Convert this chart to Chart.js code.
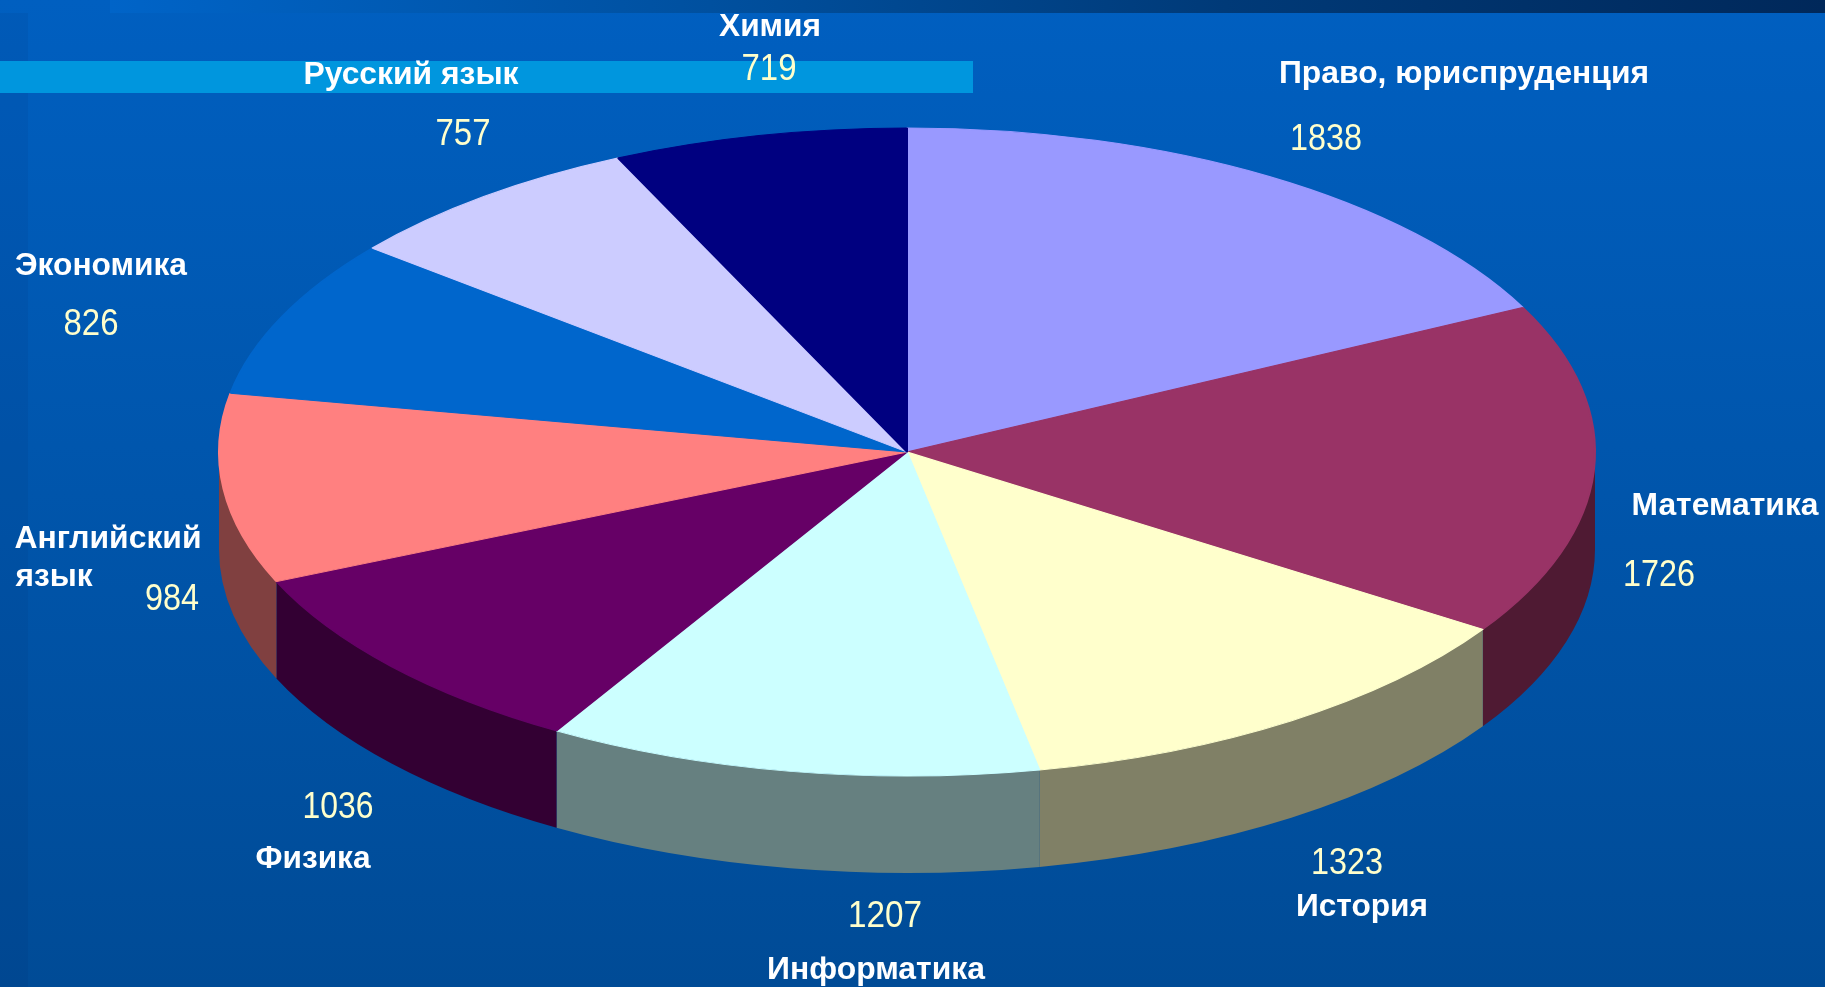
<!DOCTYPE html>
<html>
<head>
<meta charset="utf-8">
<title>Chart</title>
<script src="https://cdn.jsdelivr.net/npm/chart.js@4"></script>
<style>
  html, body { margin: 0; height: 100%; overflow: hidden; }
  body { position: relative; width: 1825px; height: 987px; background: linear-gradient(#005fc0, #004b96); }
  .band { position: absolute; }
  #leftBand { left: 0; top: 13px; width: 28px; height: 974px; background: rgba(0, 20, 70, .06); }
  #topBar { left: 110px; top: 0; width: 1715px; height: 13px; background: linear-gradient(90deg, #0064c8, #00509f 35%, #003a78 65%, #00285a); }
  #strip { left: 0; top: 61px; width: 973px; height: 32px; background: #0096de; }
  #myChart { position: absolute; left: 0; top: 0; }
</style>
</head>
<body>
<div class="band" id="leftBand"></div>
<div class="band" id="topBar"></div>
<div class="band" id="strip"></div>
<canvas id="myChart" width="1825" height="987"></canvas>
<script>
const categories = ['Право, юриспруденция', 'Математика', 'История', 'Информатика', 'Физика', 'Английский язык', 'Экономика', 'Русский язык', 'Химия'];
const values = [1838, 1726, 1323, 1207, 1036, 984, 826, 757, 719];
const sliceColors = ['#9999ff', '#993366', '#ffffcc', '#ccffff', '#660066', '#ff8080', '#0066cc', '#ccccff', '#000080'];
const wallColors = ['#4d4d80', '#4f1a33', '#808066', '#668080', '#330033', '#804040', '#003366', '#666680', '#000040'];

// where the captions sit: [center x, center y, width]
const nameBoxes = [[1464, 74, 370], [1725, 506, 187], [1362, 907, 132], [876, 970, 218], [313, 859, 115], [108, 539, 187], [101, 266, 172], [411, 75, 215], [770, 27, 102]];
const valueBoxes = [[1326, 140, 72], [1659, 576, 72], [1347, 864, 72], [885, 917, 74], [338, 808, 71], [172, 600, 54], [91, 325, 55], [463, 135, 55], [769, 70, 55]];

const squash = 0.471;
const depth = 97;

const pie3d = {
  id: 'pie3d',
  // side walls go under the top face, only the front half shows
  beforeDatasetsDraw(chart) {
    const c = chart.ctx;
    chart.getDatasetMeta(0).data.forEach((arc, i) => {
      const a0 = Math.max(arc.startAngle, 0);
      const a1 = Math.min(arc.endAngle, Math.PI);
      if (a1 <= a0) return;
      const r = arc.outerRadius;
      c.beginPath();
      c.ellipse(arc.x, arc.y, r, r * squash, 0, a0, a1);
      c.ellipse(arc.x, arc.y + depth, r, r * squash, 0, a1, a0, true);
      c.closePath();
      c.fillStyle = wallColors[i];
      c.fill();
    });
  },
  beforeDatasetDraw(chart) {
    const c = chart.ctx;
    const arc = chart.getDatasetMeta(0).data[0];
    c.save();
    c.translate(arc.x, arc.y);
    c.scale(1, squash);
    c.translate(-arc.x, -arc.y);
  },
  afterDatasetDraw(chart) {
    chart.ctx.restore();
  },
  afterDraw(chart) {
    const c = chart.ctx;
    c.save();
    c.textAlign = 'center';
    c.textBaseline = 'middle';
    categories.forEach((name, i) => {
      c.font = 'bold 32px "Liberation Sans", Arial, sans-serif';
      c.fillStyle = '#ffffff';
      const b = nameBoxes[i];
      if (name === 'Английский язык') {
        c.fillText('Английский', b[0], b[1], b[2]);
        c.fillText('язык', 54, 577, 77);
      } else {
        c.fillText(name, b[0], b[1], b[2]);
      }
      c.font = '37px "Liberation Sans", Arial, sans-serif';
      c.fillStyle = '#ffffcc';
      const v = valueBoxes[i];
      c.fillText(String(values[i]), v[0], v[1], v[2]);
    });
    c.restore();
  }
};

new Chart(document.getElementById('myChart'), {
  type: 'pie',
  data: {
    labels: categories,
    datasets: [{
      data: values,
      backgroundColor: sliceColors,
      borderColor: sliceColors,
      borderWidth: 2,
      radius: 688,
      clip: false
    }]
  },
  options: {
    responsive: false,
    animation: false,
    layout: { padding: { right: 11, bottom: 83 } },
    plugins: { legend: { display: false }, tooltip: { enabled: false } }
  },
  plugins: [pie3d]
});
</script>
</body>
</html>
